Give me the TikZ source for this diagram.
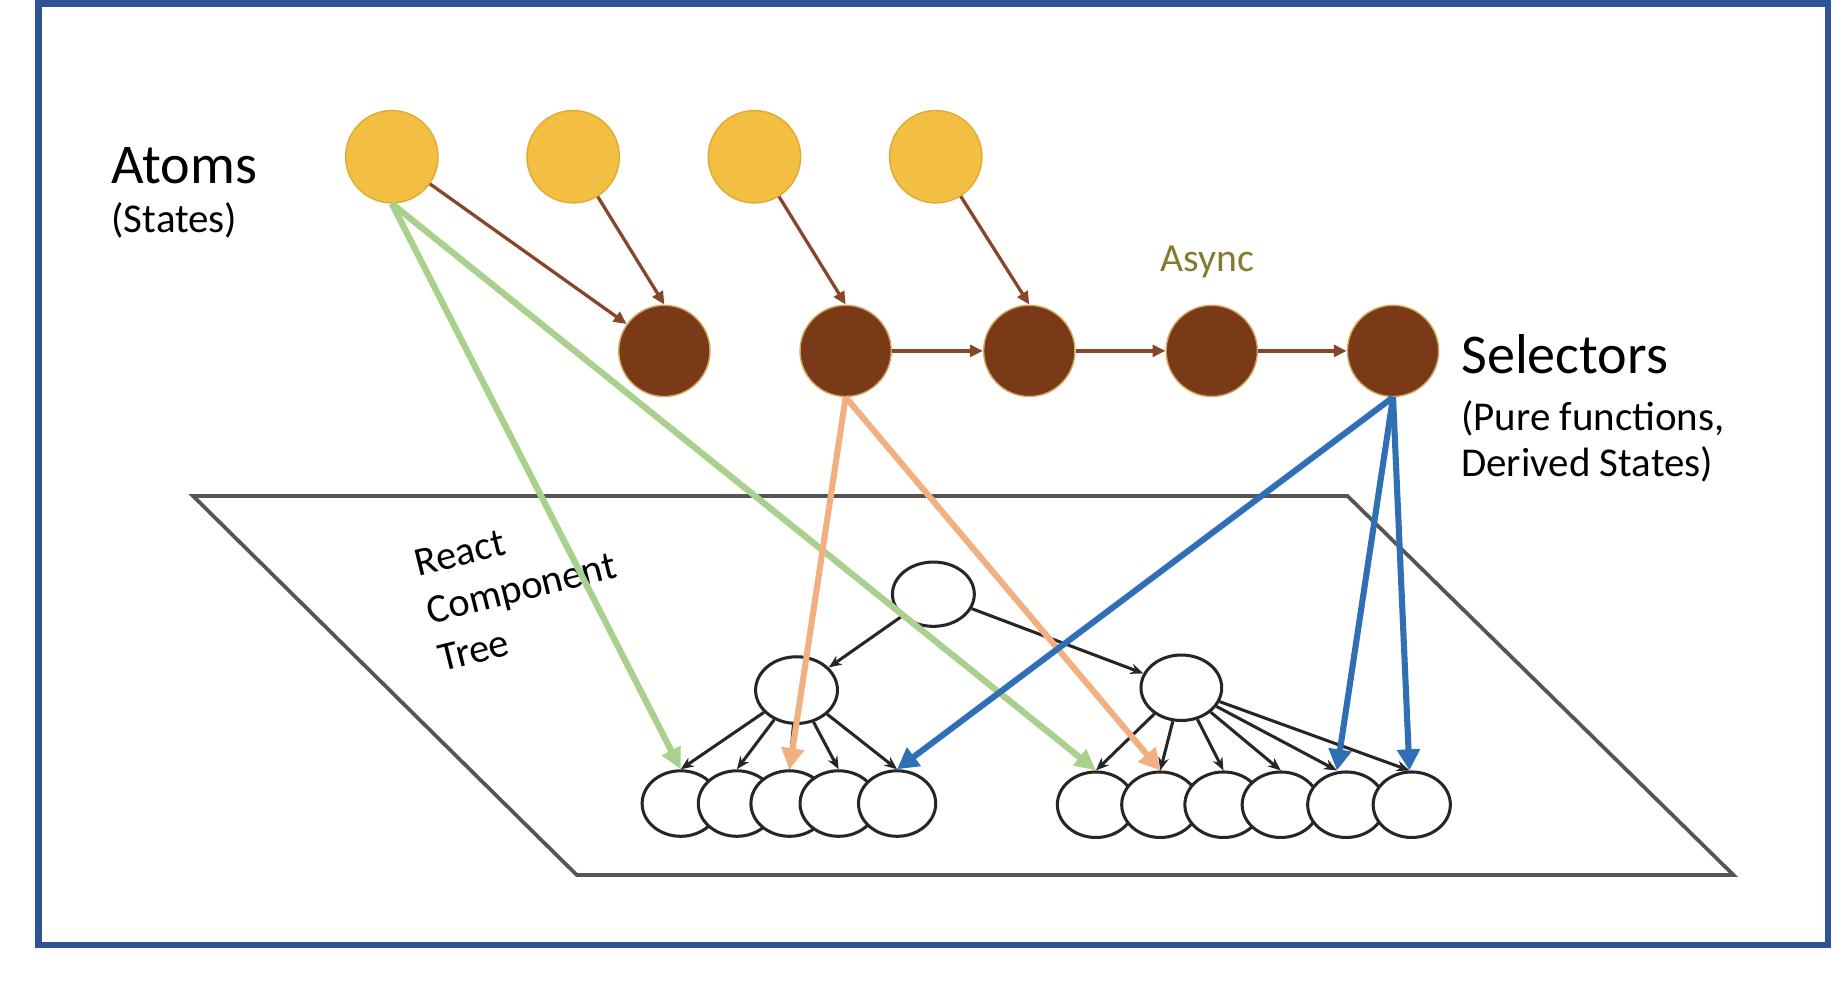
\documentclass[tikz,border=0pt]{standalone}
\usepackage{fontspec}
\setmainfont{Carlito}
\usetikzlibrary{arrows.meta,shapes.geometric}
\definecolor{frameblue}{HTML}{2F5496}
\definecolor{atomfill}{HTML}{F2BF42}
\definecolor{atomline}{HTML}{E2A935}
\definecolor{selfill}{HTML}{7A3A17}
\definecolor{selline}{HTML}{D0A860}
\definecolor{brownarrow}{HTML}{87462A}
\definecolor{asynccol}{HTML}{857A2E}
\definecolor{greenarrow}{HTML}{A9D18E}
\definecolor{orangearrow}{HTML}{F2AF7F}
\definecolor{bluearrow}{HTML}{2F70B5}
\definecolor{planeline}{HTML}{555555}
\begin{document}
\begin{tikzpicture}[x=0.5pt,y=-0.5pt,
  atom/.style={circle, fill=atomfill, draw=atomline, line width=0.6pt, minimum size=39.5pt, inner sep=0pt},
  sel/.style={circle, fill=selfill, draw=selline, line width=0.6pt, minimum size=39pt, inner sep=0pt},
  tnode/.style={ellipse, fill=white, draw=black!85, line width=1.3pt, inner sep=0pt, minimum width=35pt, minimum height=27.5pt},
  leaf/.style={ellipse, fill=white, draw=black!85, line width=1.3pt, inner sep=0pt, minimum width=33pt, minimum height=28pt},
  brownedge/.style={draw=brownarrow, line width=1.4pt, -{Triangle[length=5.5pt,width=5pt]}},
  treeedge/.style={draw=black!85, line width=1.3pt, -{Stealth[length=5.5pt,width=4.5pt]}},
  greenedge/.style={draw=greenarrow, line width=2.7pt, -{Triangle[length=9pt,width=8.5pt]}},
  orangeedge/.style={draw=orangearrow, line width=2.6pt, -{Triangle[length=9pt,width=9.5pt]}},
  blueedge/.style={draw=bluearrow, line width=2.6pt, -{Triangle[length=9pt,width=9.5pt]}},
  bigtext/.style={anchor=base west, inner sep=0pt, font=\fontsize{24}{28}\selectfont},
  smalltext/.style={anchor=base west, inner sep=0pt, font=\fontsize{17.5}{20}\selectfont}
]
\useasboundingbox (0,0) rectangle (1568,840);
\fill[white] (0,0) rectangle (1568,840);
% frame
\draw[frameblue, line width=2.8pt] (33,3) rectangle (1563,808);
% plane
\draw[planeline, line width=1.6pt, line join=miter] (165,424) -- (1152,424) -- (1482,748) -- (493,748) -- cycle;

% labels
\node[bigtext] (atomsT) at (95,157) {Atoms};
\node[anchor=base west, inner sep=0pt, font=\fontsize{17.5}{20}\selectfont] (statesT) at (95,199) {(States)};
\node[bigtext] (selT) at (1249,319) {Selectors};
\node[smalltext] (pureT) at (1249,368) {(Pure functions,};
\node[smalltext] (derT) at (1249,407) {Derived States)};
\node[anchor=base west, inner sep=0pt, font=\fontsize{17}{20}\selectfont, text=asynccol] (asyncT) at (992,232) {Async};
\node[anchor=north west, inner sep=0pt, align=left, rotate=14,
      font=\fontsize{17.3}{21}\selectfont] (treeT) at (352,471) {React\\Component\\Tree};

% atoms
\node[atom] (a1) at (335,134) {};
\node[atom] (a2) at (490,134) {};
\node[atom] (a3) at (645,134) {};
\node[atom] (a4) at (800,134) {};
% selectors
\node[sel] (s1) at (568,300) {};
\node[sel] (s2) at (723,300) {};
\node[sel] (s3) at (880,300) {};
\node[sel] (s4) at (1036,300) {};
\node[sel] (s5) at (1191,300) {};

% brown arrows
\draw[brownedge] (a1) -- (s1);
\draw[brownedge] (a2) -- (s1.north);
\draw[brownedge] (a3) -- (s2.north);
\draw[brownedge] (a4) -- (s3.north);
\draw[brownedge] (s2) -- (s3);
\draw[brownedge] (s3) -- (s4);
\draw[brownedge] (s4) -- (s5);

% tree nodes
\node[tnode] (root) at (798,508) {};
\node[tnode, minimum height=28.5pt] (lm) at (681,590) {};
\node[tnode, minimum width=34.5pt, minimum height=28pt] (rm) at (1010,588) {};
\node[leaf] (l1) at (582,687) {};
\node[leaf] (l2) at (630,687) {};
\node[leaf] (l3) at (675,687) {};
\node[leaf] (l4) at (717,687) {};
\node[leaf] (l5) at (767,687) {};
\node[leaf] (r1) at (937,688) {};
\node[leaf] (r2) at (992,688) {};
\node[leaf] (r3) at (1046,688) {};
\node[leaf] (r4) at (1095,688) {};
\node[leaf] (r5) at (1151,688) {};
\node[leaf] (r6) at (1207,688) {};

% tree edges
\draw[treeedge] (root) -- (lm);
\draw[treeedge] (root) -- (rm);
\foreach \n in {l1,l2,l3,l4,l5} \draw[treeedge] (lm) -- (\n.north);
\foreach \n in {r1,r2,r3,r4} \draw[treeedge] (rm) -- (\n.north);
\draw[treeedge] (rm) -- ([xshift=-4pt]r5.north);
\draw[treeedge] (rm) -- ([xshift=-1pt]r6.north);

% coloured arrows
\draw[greenedge] (a1.south) -- (l1.north);
\draw[greenedge] (a1.south) -- (r1.north);
\draw[orangeedge] (s2.south) -- (l3.north);
\draw[orangeedge] (s2.south) -- (r2.north);
\draw[blueedge] (s5.south) -- (l5.north);
\draw[blueedge] (s5.south) -- ([xshift=-4pt]r5.north);
\draw[blueedge] (s5.south) -- ([xshift=-1pt]r6.north);
\end{tikzpicture}
\end{document}
